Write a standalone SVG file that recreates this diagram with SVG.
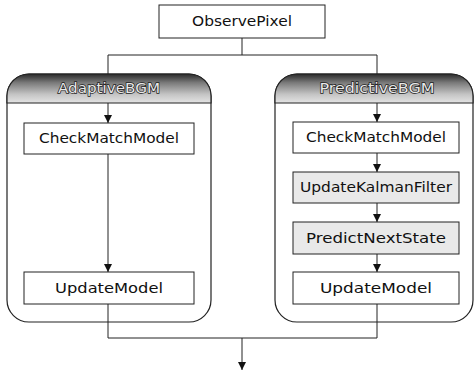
<svg xmlns="http://www.w3.org/2000/svg" width="474" height="372" viewBox="0 0 474 372">
<style>
.box{fill:#fff;stroke:#222;stroke-width:1}
.shade{fill:#e9e9e9;stroke:#222;stroke-width:1}
.cont{fill:#fff;stroke:#222;stroke-width:1.2}
.lbl{font-family:"DejaVu Sans",sans-serif;font-size:14px;fill:#111;text-anchor:middle}
.ttl{font-family:"DejaVu Sans",sans-serif;font-size:14px;fill:#e8e8e8;stroke:#222;stroke-width:1.4;paint-order:stroke;text-anchor:middle}
.ln{fill:none;stroke:#222;stroke-width:1}
</style>
<defs>
<linearGradient id="hdr" x1="0" y1="0" x2="0" y2="1">
<stop offset="0" stop-color="#2a2a2a"/>
<stop offset="0.3" stop-color="#7a7a7a"/>
<stop offset="0.7" stop-color="#c4c4c4"/>
<stop offset="1" stop-color="#e4e4e4"/>
</linearGradient>
<marker id="arr" viewBox="0 0 8 8" refX="8" refY="4" markerWidth="8" markerHeight="8" markerUnits="userSpaceOnUse" orient="auto">
<path d="M0,0 L8,4 L0,8 Z" fill="#111"/>
</marker>
</defs>

<g id="AdaptiveBGM">
<path class="cont" d="M7,96 A22,22 0 0 1 29,74 L189,74 A22,22 0 0 1 211,96 L211,300 A22,22 0 0 1 189,322 L29,322 A22,22 0 0 1 7,300 Z"/>
<path d="M7,103 L7,96 A22,22 0 0 1 29,74 L189,74 A22,22 0 0 1 211,96 L211,103 Z" fill="url(#hdr)" stroke="#222" stroke-width="1.2"/>
<text class="ttl" x="109" y="93" textLength="102" lengthAdjust="spacingAndGlyphs">AdaptiveBGM</text>
</g>

<g id="PredictiveBGM">
<path class="cont" d="M275,96 A22,22 0 0 1 297,74 L451,74 A22,22 0 0 1 473,96 L473,300 A22,22 0 0 1 451,322 L297,322 A22,22 0 0 1 275,300 Z"/>
<path d="M275,103 L275,96 A22,22 0 0 1 297,74 L451,74 A22,22 0 0 1 473,96 L473,103 Z" fill="url(#hdr)" stroke="#222" stroke-width="1.2"/>
<text class="ttl" x="377" y="93" textLength="115" lengthAdjust="spacingAndGlyphs">PredictiveBGM</text>
</g>

<g id="ObservePixel">
<rect class="box" x="159" y="5" width="166" height="33"/>
<text class="lbl" x="242" y="26" textLength="100" lengthAdjust="spacingAndGlyphs">ObservePixel</text>
</g>

<g id="A_CheckMatchModel">
<rect class="box" x="24" y="123" width="170" height="31"/>
<text class="lbl" x="109" y="143" textLength="140" lengthAdjust="spacingAndGlyphs">CheckMatchModel</text>
</g>
<g id="A_UpdateModel">
<rect class="box" x="24" y="272" width="170" height="32"/>
<text class="lbl" x="109" y="293" textLength="108" lengthAdjust="spacingAndGlyphs">UpdateModel</text>
</g>

<g id="P_CheckMatchModel">
<rect class="box" x="293" y="122" width="166" height="31"/>
<text class="lbl" x="376" y="142" textLength="140" lengthAdjust="spacingAndGlyphs">CheckMatchModel</text>
</g>
<g id="P_UpdateKalmanFilter">
<rect class="shade" x="293" y="172" width="166" height="31"/>
<text class="lbl" x="376" y="192" textLength="152" lengthAdjust="spacingAndGlyphs">UpdateKalmanFilter</text>
</g>
<g id="P_PredictNextState">
<rect class="shade" x="293" y="222" width="166" height="32"/>
<text class="lbl" x="376" y="243" textLength="140" lengthAdjust="spacingAndGlyphs">PredictNextState</text>
</g>
<g id="P_UpdateModel">
<rect class="box" x="293" y="272" width="166" height="32"/>
<text class="lbl" x="376" y="293" textLength="112" lengthAdjust="spacingAndGlyphs">UpdateModel</text>
</g>

<g id="connectors">
<path class="ln" d="M242,38 L242,55"/>
<path class="ln" d="M108,74 L108,55 L377,55 L377,74"/>
<path class="ln" d="M108,103 L108,123" marker-end="url(#arr)"/>
<path class="ln" d="M377,103 L377,122" marker-end="url(#arr)"/>
<path class="ln" d="M108,154 L108,272" marker-end="url(#arr)"/>
<path class="ln" d="M377,153 L377,172" marker-end="url(#arr)"/>
<path class="ln" d="M377,203 L377,222" marker-end="url(#arr)"/>
<path class="ln" d="M377,254 L377,272" marker-end="url(#arr)"/>
<path class="ln" d="M108,304 L108,338 L377,338 L377,304"/>
<path class="ln" d="M242,338 L242,370" marker-end="url(#arr)"/>
</g>
</svg>
